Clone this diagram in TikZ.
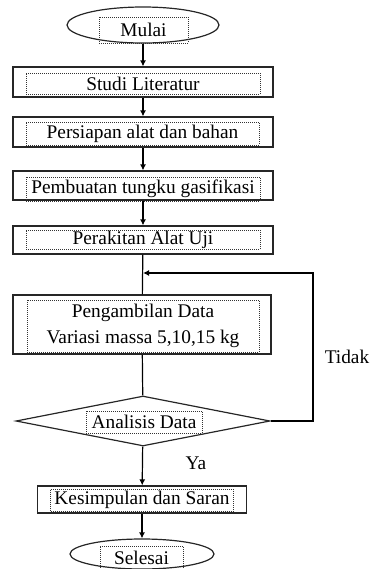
\documentclass[tikz,border=0pt]{standalone}
\usepackage{fontspec}
\setmainfont{Liberation Serif}
\usetikzlibrary{arrows.meta,shapes.geometric}

\tikzset{
  stepbox/.style={draw=black!85,line width=0.9pt,inner sep=0pt,minimum width=195pt},
  terminal/.style={ellipse,draw=black!85,line width=0.9pt,inner sep=0pt},
  decision/.style={diamond,draw=black!85,line width=0.9pt,inner sep=0pt},
  txtframe/.style={draw=black!80,densely dotted,line width=0.5pt,inner sep=0pt,
    align=center,font=\fontsize{14.5}{20}\selectfont},
  lbl/.style={font=\fontsize{14.5}{17}\selectfont}
}

\begin{document}
\begin{tikzpicture}[>={Latex[length=4.5pt,width=4.5pt]},x=0.75pt,y=-0.75pt,line width=0.9pt]
      \useasboundingbox (0,0) rectangle (370,569);
      % outer shapes
      \node[terminal,minimum width=114pt,minimum height=27pt] (mulai) at (143,25) {};
      \node[stepbox,minimum height=22.5pt] (studi) at (143,82) {};
      \node[stepbox,minimum height=22.5pt] (persiapan) at (143,132) {};
      \node[stepbox,minimum height=21.75pt] (tungku) at (143,185.5) {};
      \node[stepbox,minimum height=21pt] (rakit) at (143,240) {};
      \node[stepbox,minimum width=193.5pt,minimum height=44.25pt] (ambil) at (142,324.5) {};
      \node[decision,minimum width=190.5pt,minimum height=37.5pt] (analisis) at (143,421) {};
      \node[stepbox,minimum width=157pt,minimum height=20.25pt] (simpul) at (142,499.5) {};
      \node[terminal,minimum width=108pt,minimum height=22.5pt] (selesai) at (142,554) {};
      % text frames
      \node[txtframe,minimum width=66.75pt,minimum height=19.5pt] (t-mulai) at (143.5,30) {Mulai};
      \node[txtframe,minimum width=175.5pt,minimum height=15.75pt] (t-studi) at (143,83.5) {Studi Literatur};
      \node[txtframe,minimum width=174.75pt,minimum height=17.25pt] (t-persiapan) at (142.5,133.5) {Persiapan alat dan bahan};
      \node[txtframe,minimum width=175.5pt,minimum height=18pt] (t-tungku) at (143,189) {Pembuatan tungku gasifikasi};
      \node[txtframe,minimum width=175.5pt,minimum height=14.25pt] (t-rakit) at (143,239.5) {Perakitan Alat Uji};
      \node[txtframe,minimum width=174pt,minimum height=39pt] (t-ambil) at (143,326) {Pengambilan Data\\Variasi massa 5,10,15 kg};
      \node[txtframe,minimum width=87pt,minimum height=16.5pt] (t-analisis) at (144,422) {Analisis Data};
      \node[txtframe,minimum width=137pt,minimum height=16.5pt] (t-simpul) at (142,500) {Kesimpulan dan Saran};
      \node[txtframe,minimum width=62.25pt,minimum height=17.25pt] (t-selesai) at (141.5,557.5) {Selesai};
      % labels
      \node[lbl] (tidak) at (347,357) {Tidak};
      \node[lbl] (ya) at (196,463) {Ya};
      \coordinate (loop) at (313,273);
      % connectors
      \draw[->] (mulai) -- (studi);
      \draw[->] (studi) -- (persiapan);
      \draw[->] (persiapan) -- (tungku);
      \draw[->] (tungku) -- (rakit);
      \draw (rakit) -- (ambil);
      \draw (ambil) -- (analisis);
      \draw[->] (analisis.east) -| (loop) -- (loop -| rakit);
      \draw[->] (analisis) -- (simpul);
      \draw[->] (simpul) -- (selesai);
    \end{tikzpicture}
\end{document}
